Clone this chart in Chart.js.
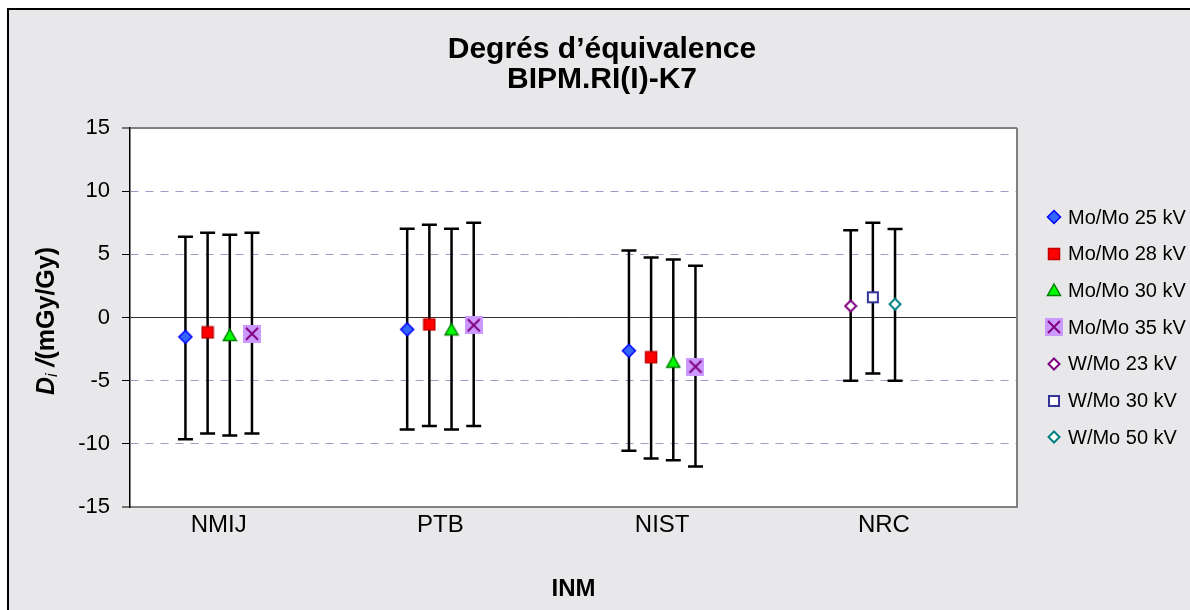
<html lang="fr">
<head>
    <meta charset="UTF-8">
    <title>Degrés d'équivalence BIPM.RI(I)-K7</title>
    <style>
        body { margin: 0; background: #fff; }
        #canvas { display: block; }
    </style>
</head>
<body>
    <canvas id="canvas" width="1190" height="610"></canvas>
    <script src="https://cdn.jsdelivr.net/npm/chart.js@4"></script>
    <script>
        // labs on the x axis
        const labs = ['NMIJ', 'PTB', 'NIST', 'NRC'];
        const seriesNames = ['Mo/Mo 25 kV', 'Mo/Mo 28 kV', 'Mo/Mo 30 kV', 'Mo/Mo 35 kV', 'W/Mo 23 kV', 'W/Mo 30 kV', 'W/Mo 50 kV'];
        const yTicks = [-15, -10, -5, 0, 5, 10, 15];

        // Di values (mGy/Gy), one per lab, null = no result
        const moMo25 = [-1.53, -0.94, -2.63, null];
        const moMo28 = [-1.18, -0.55, -3.15, null];
        const moMo30 = [-1.39, -0.94, -3.50, null];
        const moMo35 = [-1.29, -0.61, -3.89, null];
        const wMo23 = [null, null, null, 0.91];
        const wMo30 = [null, null, null, 1.60];
        const wMo50 = [null, null, null, 1.05];

        // ends of the uncertainty bars
        const moMo25Low = [-9.64, -8.87, -10.55, null];
        const moMo25High = [6.40, 7.03, 5.30, null];
        const moMo28Low = [-9.19, -8.58, -11.16, null];
        const moMo28High = [6.70, 7.35, 4.75, null];
        const moMo30Low = [-9.35, -8.87, -11.30, null];
        const moMo30High = [6.55, 7.03, 4.60, null];
        const moMo35Low = [-9.19, -8.58, -11.80, null];
        const moMo35High = [6.70, 7.50, 4.10, null];
        const wMo23Low = [null, null, null, -5.00];
        const wMo23High = [null, null, null, 6.90];
        const wMo30Low = [null, null, null, -4.44];
        const wMo30High = [null, null, null, 7.50];
        const wMo50Low = [null, null, null, -5.00];
        const wMo50High = [null, null, null, 7.00];

        const values = [moMo25, moMo28, moMo30, moMo35, wMo23, wMo30, wMo50];
        const lows = [moMo25Low, moMo28Low, moMo30Low, moMo35Low, wMo23Low, wMo30Low, wMo50Low];
        const highs = [moMo25High, moMo28High, moMo30High, moMo35High, wMo23High, wMo30High, wMo50High];

        // horizontal shift of each series inside a lab group
        const shift = [-0.15, -0.05, 0.05, 0.15, -0.15, -0.05, 0.05];

        const FONT = '"Liberation Sans", Arial, sans-serif';

        // marker pictures
        function marker(w, h, draw) {
            const c = document.createElement('canvas');
            c.width = w; c.height = h;
            const g = c.getContext('2d');
            draw(g);
            return c;
        }
        function diamond(g, cx, cy, r, fill, stroke, lw) {
            g.beginPath();
            g.moveTo(cx, cy - r); g.lineTo(cx + r, cy); g.lineTo(cx, cy + r); g.lineTo(cx - r, cy);
            g.closePath();
            g.fillStyle = fill; g.fill();
            g.lineWidth = lw; g.strokeStyle = stroke; g.stroke();
        }
        const markers = [
            marker(16, 16, g => diamond(g, 8, 8, 6.5, '#3366ff', '#0000ff', 1.5)),
            marker(14, 14, g => {
                g.fillStyle = '#ff0000'; g.fillRect(1.5, 1.5, 11, 11);
                g.lineWidth = 1.5; g.strokeStyle = '#c00000'; g.strokeRect(1.5, 1.5, 11, 11);
            }),
            marker(16, 16, g => {
                g.beginPath(); g.moveTo(8, 2); g.lineTo(14.5, 13.5); g.lineTo(1.5, 13.5); g.closePath();
                g.fillStyle = '#00ff00'; g.fill();
                g.lineWidth = 1.5; g.strokeStyle = '#008000'; g.stroke();
            }),
            marker(18, 18, g => {
                g.fillStyle = '#cc99ff'; g.fillRect(0, 0, 18, 18);
                g.beginPath(); g.moveTo(3, 3); g.lineTo(15, 15); g.moveTo(15, 3); g.lineTo(3, 15);
                g.lineWidth = 2; g.strokeStyle = '#800080'; g.stroke();
            }),
            marker(14, 14, g => diamond(g, 7, 7, 5.5, '#ffffff', '#800080', 2)),
            marker(14, 14, g => {
                g.fillStyle = '#ffffff'; g.fillRect(2, 2, 10, 10);
                g.lineWidth = 2; g.strokeStyle = '#333399'; g.strokeRect(2, 2, 10, 10);
            }),
            marker(14, 14, g => diamond(g, 7, 7, 5.5, '#ffffff', '#008080', 2))
        ];

        const datasets = seriesNames.map((name, i) => ({
            label: name,
            data: values[i].map((v, j) => v === null ? null : { x: j + 1 + shift[i], y: v }).filter(p => p),
            pointStyle: markers[i],
            pointRadius: 7,
            showLine: false
        }));

        const framePlugin = {
            id: 'frame',
            beforeDraw(chart) {
                const ctx = chart.ctx, a = chart.chartArea;
                ctx.save();
                ctx.fillStyle = '#ffffff';
                ctx.fillRect(0, 0, chart.width, chart.height);
                ctx.fillStyle = '#e8e8ea';
                ctx.fillRect(8, 9, chart.width, chart.height);
                ctx.strokeStyle = '#000';
                ctx.lineWidth = 2;
                ctx.strokeRect(8, 9, chart.width + 10, chart.height + 10);
                ctx.fillStyle = '#ffffff';
                ctx.fillRect(a.left, a.top, a.right - a.left, a.bottom - a.top);
                ctx.restore();
            },
            beforeDatasetsDraw(chart) {
                const ctx = chart.ctx, xs = chart.scales.x, ys = chart.scales.y;
                ctx.save();
                ctx.strokeStyle = '#000';
                ctx.lineWidth = 2.5;
                values.forEach((vals, i) => {
                    vals.forEach((v, j) => {
                        if (v === null) return;
                        const px = xs.getPixelForValue(j + 1 + shift[i]);
                        const top = ys.getPixelForValue(highs[i][j]);
                        const bot = ys.getPixelForValue(lows[i][j]);
                        ctx.beginPath();
                        ctx.moveTo(px, top); ctx.lineTo(px, bot);
                        ctx.moveTo(px - 7.5, top); ctx.lineTo(px + 7.5, top);
                        ctx.moveTo(px - 7.5, bot); ctx.lineTo(px + 7.5, bot);
                        ctx.stroke();
                    });
                });
                ctx.restore();
            },
            afterDraw(chart) {
                const ctx = chart.ctx, a = chart.chartArea;
                ctx.save();
                // right edge of plot area
                ctx.strokeStyle = '#808080';
                ctx.lineWidth = 2;
                ctx.beginPath();
                ctx.moveTo(a.right, a.top); ctx.lineTo(a.right, a.bottom);
                ctx.stroke();

                // legend
                ctx.fillStyle = '#000';
                ctx.font = '20px ' + FONT;
                ctx.textBaseline = 'middle';
                ctx.textAlign = 'left';
                chart.data.datasets.forEach((ds, i) => {
                    const cy = 217 + i * 36.7;
                    const img = ds.pointStyle;
                    ctx.drawImage(img, Math.round(1054 - img.width / 2), Math.round(cy - img.height / 2));
                    ctx.fillText(ds.label, 1068, cy + 1);
                });

                // y axis title: Di /(mGy/Gy)
                const parts = [
                    { t: 'D', f: 'italic bold 25px ' + FONT, dy: 0 },
                    { t: 'i', f: 'italic 16px ' + FONT, dy: 6 },
                    { t: ' /', f: 'italic bold 25px ' + FONT, dy: 0 },
                    { t: '(mGy/Gy)', f: 'bold 25px ' + FONT, dy: 0 }
                ];
                let total = 0;
                parts.forEach(p => { ctx.font = p.f; p.w = ctx.measureText(p.t).width; total += p.w; });
                ctx.translate(47, 321);
                ctx.rotate(-Math.PI / 2);
                let x = -total / 2;
                parts.forEach(p => {
                    ctx.font = p.f;
                    ctx.fillText(p.t, x, p.dy);
                    x += p.w;
                });
                ctx.restore();
            }
        };

        const plainLine = v => v === 0 || Math.abs(v) === 15;

        new Chart(document.getElementById('canvas'), {
            type: 'scatter',
            data: { datasets: datasets },
            options: {
                responsive: false,
                animation: false,
                layout: { padding: { left: 14, right: 0, top: 0, bottom: 0 } },
                plugins: {
                    legend: { display: false },
                    tooltip: { enabled: false },
                    title: {
                        display: true,
                        text: ['Degrés d’équivalence', 'BIPM.RI(I)-K7'],
                        color: '#000',
                        font: { family: FONT, size: 30, weight: 'bold', lineHeight: '30px' },
                        padding: { top: 35, bottom: 33 }
                    }
                },
                scales: {
                    x: {
                        type: 'linear',
                        min: 0.6,
                        max: 4.6,
                        afterBuildTicks: s => { s.ticks = labs.map((l, i) => ({ value: i + 1 })); },
                        afterFit: s => { s.height = 103; },
                        grid: { display: false, drawTicks: false },
                        border: { color: '#808080', width: 2 },
                        ticks: {
                            padding: 4,
                            color: '#000',
                            font: { family: FONT, size: 24 },
                            callback: v => labs[Math.round(v) - 1]
                        },
                        title: {
                            display: true,
                            text: 'INM',
                            color: '#000',
                            font: { family: FONT, size: 24, weight: 'bold' },
                            padding: { top: 0, bottom: 6 }
                        }
                    },
                    y: {
                        min: -15,
                        max: 15,
                        afterBuildTicks: s => { s.ticks = yTicks.map(v => ({ value: v })); },
                        afterFit: s => { s.width = 116; },
                        border: {
                            color: '#000',
                            width: 1.5,
                            dash: c => (c.tick && !plainLine(c.tick.value)) ? [8, 7] : []
                        },
                        grid: {
                            color: c => c.tick.value === 0 ? '#333333' : (Math.abs(c.tick.value) === 15 ? '#808080' : '#9c9cc4'),
                            lineWidth: c => Math.abs(c.tick.value) === 15 ? 2 : 1,
                            tickColor: '#000',
                            tickLength: 8,
                            tickWidth: 1,
                            tickBorderDash: []
                        },
                        ticks: {
                            padding: 12,
                            color: '#000',
                            font: { family: FONT, size: 22 }
                        }
                    },
                    y2: {
                        type: 'linear',
                        position: 'right',
                        min: -15,
                        max: 15,
                        afterFit: s => { s.width = 173; },
                        grid: { display: false },
                        border: { display: false },
                        ticks: { display: false }
                    }
                }
            },
            plugins: [framePlugin]
        });
    </script>
</body>
</html>
